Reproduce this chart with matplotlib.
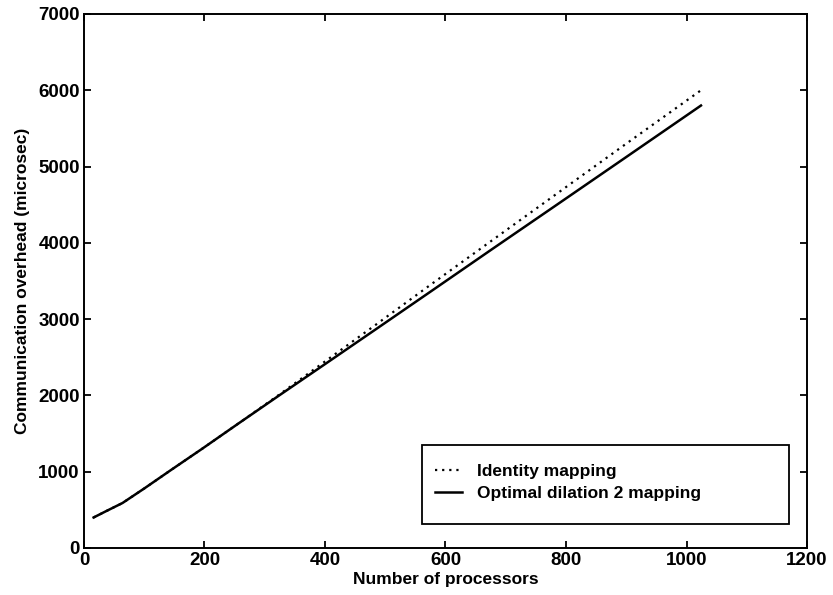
import matplotlib
matplotlib.use("Agg")
import matplotlib.pyplot as plt
from matplotlib.patches import Rectangle

plt.rcParams['font.family'] = ['Liberation Sans', 'DejaVu Sans']

# Number of processors (square meshes)
processors = [16, 36, 64, 100, 144, 196, 256, 324, 400, 484, 576, 676, 784, 900, 1024]
# Communication overhead in microseconds
identity_mapping = [400, 480, 590, 780, 1020, 1300, 1630, 2010, 2445, 2925, 3455, 4025, 4640, 5300, 6000]
dilation2_mapping = [400, 480, 590, 780, 1020, 1300, 1630, 2000, 2410, 2865, 3365, 3910, 4495, 5125, 5800]

x_ticks = [0, 200, 400, 600, 800, 1000, 1200]
y_ticks = [0, 1000, 2000, 3000, 4000, 5000, 6000, 7000]

fig = plt.figure(figsize=(8.33, 5.95), dpi=100)
ax = fig.add_axes([0.1008, 0.079, 0.868, 0.8975])

ax.plot(processors, identity_mapping, color='black', linestyle=(0, (1, 2.2)),
        linewidth=1.6, label='Identity mapping')
ax.plot(processors, dilation2_mapping, color='black', linestyle='-',
        linewidth=1.8, label='Optimal dilation 2 mapping')

ax.set_xlim(0, 1200)
ax.set_ylim(0, 7000)
ax.set_xticks(x_ticks)
ax.set_yticks(y_ticks)
ax.tick_params(direction='in', length=5, width=1.3, top=True, right=True,
               labelsize=13.5, pad=3)
for lbl in ax.get_xticklabels() + ax.get_yticklabels():
    lbl.set_fontweight('bold')
for sp in ax.spines.values():
    sp.set_linewidth(1.4)

ax.set_xlabel('Number of processors', fontsize=12.5, fontweight='bold', labelpad=2)
ax.set_ylabel('Communication overhead (microsec)', fontsize=12.5, fontweight='bold', labelpad=6)

# Legend frame drawn as its own box, entries placed inside it
ax.add_patch(Rectangle((0.4675, 0.045), 0.5076, 0.148, transform=ax.transAxes,
                       fill=True, facecolor='white', edgecolor='black',
                       linewidth=1.3, zorder=4))
leg = ax.legend(loc='upper left', bbox_to_anchor=(0.4675, 0.182),
                frameon=False, handlelength=1.55, handletextpad=0.85,
                borderpad=0.75, borderaxespad=0.0, labelspacing=0.42,
                prop={'weight': 'bold', 'size': 12.5})
leg.set_zorder(5)

fig.savefig('out.png', dpi=100)
